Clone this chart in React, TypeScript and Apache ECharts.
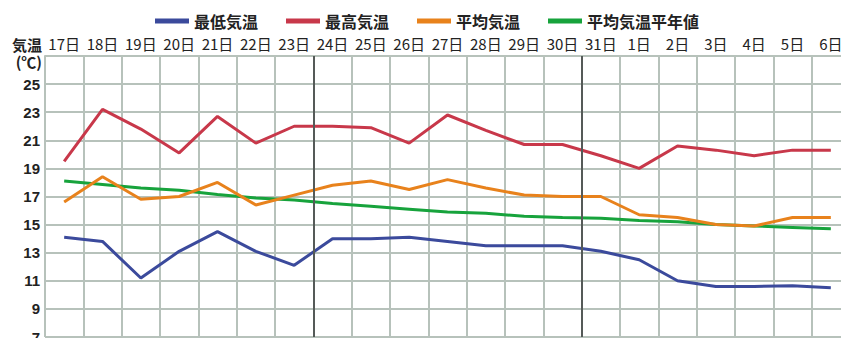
import React, { useEffect, useRef } from "react";
import * as echarts from "echarts";

const days = ["17日", "18日", "19日", "20日", "21日", "22日", "23日", "24日", "25日", "26日", "27日", "28日", "29日", "30日", "31日", "1日", "2日", "3日", "4日", "5日", "6日"];
const minTemp = [14.1, 13.8, 11.2, 13.1, 14.5, 13.1, 12.1, 14.0, 14.0, 14.1, 13.8, 13.5, 13.5, 13.5, 13.1, 12.5, 11.0, 10.6, 10.6, 10.65, 10.5];
const maxTemp = [19.5, 23.2, 21.8, 20.1, 22.7, 20.8, 22.0, 22.0, 21.9, 20.8, 22.8, 21.7, 20.7, 20.7, 19.9, 19.0, 20.6, 20.3, 19.9, 20.3, 20.3];
const avgTemp = [16.6, 18.4, 16.8, 17.0, 18.0, 16.4, 17.1, 17.8, 18.1, 17.5, 18.2, 17.6, 17.1, 17.0, 17.0, 15.7, 15.5, 15.0, 14.9, 15.5, 15.5];
const normalTemp = [18.1, 17.85, 17.6, 17.45, 17.15, 16.9, 16.75, 16.5, 16.3, 16.1, 15.9, 15.8, 15.6, 15.5, 15.45, 15.3, 15.2, 15.0, 14.9, 14.8, 14.7];
const weekBoundaries = [7, 14];
const seriesNames = ["最低気温", "最高気温", "平均気温", "平均気温平年値"];

const COLORS = {
  min: "#3b4a9c",
  max: "#c8384a",
  avg: "#e8821c",
  normal: "#17a33c",
  grid: "#b7c2bb",
  dark: "#555a58",
};

const CJK = "'Noto Sans CJK JP', 'Noto Sans', sans-serif";
const NARROW = "'Liberation Sans Narrow', 'Noto Sans CJK JP', sans-serif";

export default function App() {
  const ref = useRef<HTMLDivElement>(null);
  useEffect(() => {
    if (!ref.current) return;
    const chart = echarts.init(ref.current, null, { renderer: "svg" });
    const lineSeries = (name: string, data: number[], color: string) => ({
      name,
      type: "line",
      data,
      xAxisIndex: 0,
      yAxisIndex: 0,
      symbol: "none",
      lineStyle: { color, width: 3 },
      itemStyle: { color },
    });
    chart.setOption({
      animation: false,
      backgroundColor: "#ffffff",
      legend: {
        data: seriesNames,
        left: 150,
        top: 8,
        itemWidth: 34,
        itemHeight: 5,
        itemGap: 28,
        icon: "rect",
        textStyle: { fontFamily: CJK, fontSize: 16, fontWeight: "bold", color: "#222" },
      },
      grid: { left: 45, top: 56, right: 10, bottom: 1, outerBoundsMode: "none", containLabel: false },
      xAxis: [
        {
          type: "category",
          data: days,
          position: "top",
          boundaryGap: true,
          axisTick: { show: false },
          axisLine: { show: true, lineStyle: { color: COLORS.grid, width: 2 } },
          axisLabel: {
            interval: 0,
            margin: 5,
            fontFamily: NARROW,
            fontSize: 15,
            color: "#222",
          },
          splitLine: { show: true, interval: 0, lineStyle: { color: COLORS.grid, width: 2 } },
        },
        {
          type: "value",
          min: 0,
          max: 21,
          show: false,
        },
      ],
      yAxis: {
        type: "value",
        min: 7,
        max: 27,
        interval: 2,
        name: "気温\n(℃)",
        nameLocation: "end",
        nameGap: -14,
        nameMoveOverlap: false,
        nameTextStyle: {
          fontFamily: CJK,
          fontSize: 15,
          fontWeight: "bold",
          color: "#222",
          align: "right",
          verticalAlign: "bottom",
          lineHeight: 17,
          padding: [0, 3, 0, 0],
        },
        axisLine: { show: false },
        axisTick: { show: false },
        axisLabel: {
          margin: 5,
          fontFamily: "'Liberation Sans', Arial, sans-serif",
          fontSize: 15,
          fontWeight: "bold",
          color: "#222",
          showMaxLabel: false,
        },
        splitLine: { show: true, lineStyle: { color: COLORS.grid, width: 2 } },
      },
      series: [
        {
          name: "weeks",
          type: "line",
          xAxisIndex: 1,
          yAxisIndex: 0,
          data: [],
          silent: true,
          markLine: {
            silent: true,
            symbol: "none",
            label: { show: false },
            lineStyle: { color: COLORS.dark, width: 2, type: "solid" },
            data: weekBoundaries.map((v) => ({ xAxis: v })),
          },
        },
        lineSeries(seriesNames[0], minTemp, COLORS.min),
        lineSeries(seriesNames[1], maxTemp, COLORS.max),
        lineSeries(seriesNames[3], normalTemp, COLORS.normal),
        lineSeries(seriesNames[2], avgTemp, COLORS.avg),
      ],
    });
    return () => chart.dispose();
  }, []);
  return (
    <div style={{ position: "absolute", left: 0, top: 0, width: 841, height: 338, overflow: "hidden", background: "#fff" }}>
      <div ref={ref} style={{ width: 860, height: 338 }} />
    </div>
  );
}
